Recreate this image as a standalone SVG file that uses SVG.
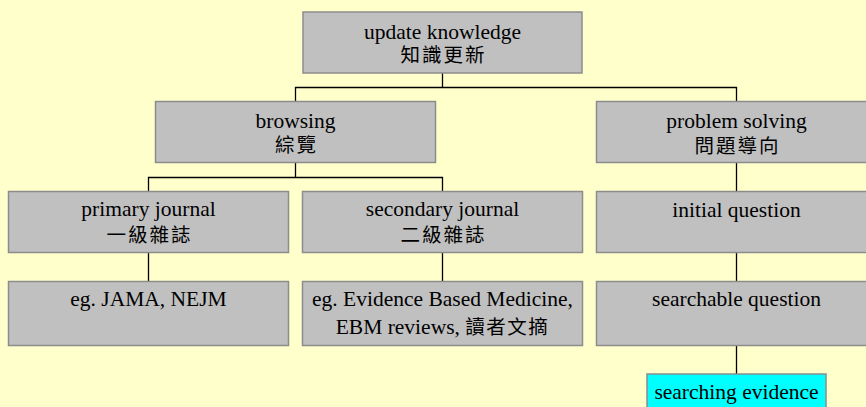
<svg xmlns="http://www.w3.org/2000/svg" width="866" height="407" viewBox="0 0 866 407">
<style>
.bg{fill:#FFFFCC}
.box{fill:#C0C0C0;stroke:#8C8C8C;stroke-width:1.5}
.hl{fill:#00FFFF;stroke:#8C8C8C;stroke-width:1.5}
.t{font-family:"Liberation Serif","Times New Roman",serif;font-size:21.5px;fill:#000;text-anchor:middle}
.c{font-family:"Noto Sans CJK TC","Noto Sans CJK SC",sans-serif;font-size:19.5px;letter-spacing:2px}
.cs{font-family:"Noto Sans CJK TC","Noto Sans CJK SC",sans-serif;font-size:19.5px;letter-spacing:1.5px}
.con{fill:none;stroke:#000;stroke-width:1.3}
</style>
<rect class="bg" x="0" y="0" width="866" height="407"/>
<g id="connectors">
<path class="con" d="M442.5 73V87.5M295.5 101V87.5H736.5V101"/>
<path class="con" d="M295.5 163V177.5M148.5 191V177.5H442.5V191"/>
<path class="con" d="M148.5 252V281M442.5 252V281"/>
<path class="con" d="M736.5 163V191M736.5 252V281M736.5 346V374"/>
</g>
<g id="update">
<rect class="box" x="303" y="12" width="279" height="61"/>
<text class="t"><tspan x="442.5" y="39">update knowledge</tspan><tspan class="c" x="443.5" y="62">知識更新</tspan></text>
</g>
<g id="browsing">
<rect class="box" x="155.5" y="101.5" width="280" height="61"/>
<text class="t"><tspan x="295.5" y="127.5">browsing</tspan><tspan class="c" x="296.5" y="152">綜覽</tspan></text>
</g>
<g id="problem">
<rect class="box" x="596.5" y="101.5" width="280" height="61"/>
<text class="t"><tspan x="736.5" y="128">problem solving</tspan><tspan class="c" x="737.5" y="152.5">問題導向</tspan></text>
</g>
<g id="primary">
<rect class="box" x="8.5" y="191.5" width="280" height="61"/>
<text class="t"><tspan x="148.5" y="216">primary journal</tspan><tspan class="c" x="149.5" y="242">一級雜誌</tspan></text>
</g>
<g id="secondary">
<rect class="box" x="302.5" y="191.5" width="280" height="61"/>
<text class="t"><tspan x="442.5" y="216">secondary journal</tspan><tspan class="c" x="443.5" y="242">二級雜誌</tspan></text>
</g>
<g id="initial">
<rect class="box" x="596.5" y="191.5" width="280" height="61"/>
<text class="t" x="736.5" y="216.5">initial question</text>
</g>
<g id="jama">
<rect class="box" x="8.5" y="281.5" width="280" height="64"/>
<text class="t" x="148.5" y="305.5">eg. JAMA, NEJM</text>
</g>
<g id="ebm">
<rect class="box" x="302.5" y="281.5" width="280" height="64"/>
<text class="t"><tspan x="442.5" y="305.5">eg. Evidence Based Medicine,</tspan><tspan x="442.5" y="334">EBM reviews, <tspan class="cs">讀者文摘</tspan></tspan></text>
</g>
<g id="searchable">
<rect class="box" x="596.5" y="281.5" width="280" height="64"/>
<text class="t" x="736.5" y="305.5">searchable question</text>
</g>
<g id="searching">
<rect class="hl" x="647" y="374" width="179" height="40"/>
<text class="t" x="736.5" y="398.5">searching evidence</text>
</g>
</svg>
